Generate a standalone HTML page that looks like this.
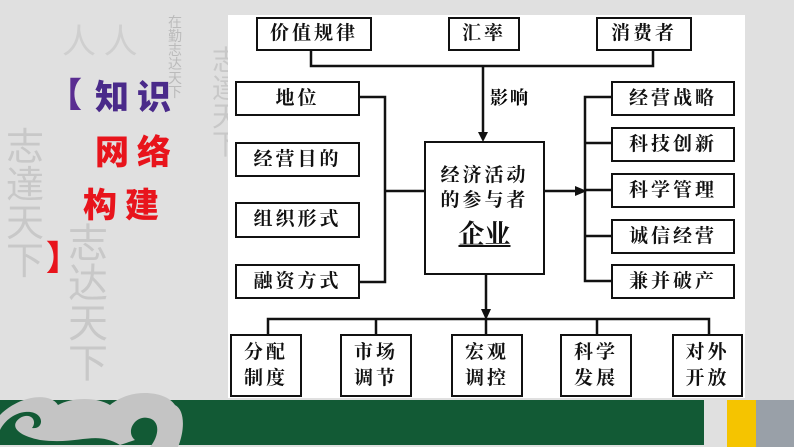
<!DOCTYPE html>
<html><head><meta charset="utf-8"><style>
*{margin:0;padding:0;box-sizing:border-box}
body{width:794px;height:447px;overflow:hidden;background:#e0e0e0;position:relative;font-family:"Liberation Serif","Noto Serif CJK SC",serif}
.a{position:absolute}
.b{position:absolute;background:#fff;border:2px solid #111;display:flex;align-items:center;justify-content:center;font-size:19px;font-weight:bold;color:#111;letter-spacing:3px;line-height:26px;text-align:center}
.wm{position:absolute;color:#c8c8c8;font-family:"Noto Sans CJK SC",sans-serif;line-height:1}
.t{position:absolute;font-family:"Noto Sans CJK SC",sans-serif;font-weight:900;font-size:34px;line-height:1;letter-spacing:8px}
</style></head><body>
<div class="wm" style="left:6px;top:125px;font-size:38px;width:40px">志達天下</div>
<div class="wm" style="left:68px;top:220px;font-size:40px;width:44px">志达天下</div>
<div class="wm" style="left:168px;top:15px;font-size:14px;width:16px;color:#bbb">在勤志达天下</div>
<div class="wm" style="left:212px;top:45px;font-size:28px;width:30px">志達天下</div>
<div class="wm" style="left:62px;top:22px;font-size:34px;color:#cfcfcf">人 人</div>
<div class="t" style="left:48px;top:76px;color:#5a2d91">【</div>
<div class="t" style="left:95px;top:78px;color:#4a2a8a">知识</div>
<div class="t" style="left:95px;top:133px;color:#e8141c">网络</div>
<div class="t" style="left:83px;top:186px;color:#e8141c">构建</div>
<div class="t" style="left:46px;top:239px;color:#e8141c">】</div>

<div class="a" style="left:228px;top:15px;width:517px;height:383px;background:#fff"></div>
<svg class="a" style="left:0;top:0" width="794" height="447">
<g stroke="#111" stroke-width="2.5" fill="none">
<path d="M311 50V66H653V50M483 66V134"/>
<path d="M359 97H385V282H359M385 191H424"/>
<path d="M545 191H578M611 97H585V281H611M585 143H611M585 190H611M585 236H611"/>
<path d="M486 274V312M268 334V319H709V334M376 319V334M486 319V334M597 319V334"/>
</g>
<g fill="#111">
<path d="M478 132L488 132L483 142Z"/>
<path d="M575 186L587 191L575 196Z"/>
<path d="M481 309L491 309L486 320Z"/>
</g>
<rect x="0" y="400" width="704" height="45" fill="#125a35"/>
<rect x="727" y="400" width="29" height="47" fill="#f5c400"/>
<rect x="756" y="400" width="38" height="47" fill="#99a0a8"/>
<path d="M0 415C20 395 50 392 58 405C70 398 95 396 110 405C130 388 165 390 175 405C185 410 185 430 178 447H150C160 435 160 420 148 418C135 415 125 432 135 440L120 445C95 430 80 445 40 440C15 435 10 425 20 418C30 412 38 420 32 428C45 430 45 410 25 412C15 413 5 420 0 430Z" fill="#c4c4c4"/>
</svg>
<div class="b" style="left:256px;top:17px;width:116px;height:34px">价值规律</div>
<div class="b" style="left:448px;top:17px;width:72px;height:34px">汇率</div>
<div class="b" style="left:596px;top:17px;width:96px;height:34px">消费者</div>
<div class="a" style="left:490px;top:84px;font-size:18px;font-weight:bold;letter-spacing:2px">影响</div>
<div class="b" style="left:235px;top:81px;width:125px;height:35px">地位</div>
<div class="b" style="left:235px;top:142px;width:125px;height:35px">经营目的</div>
<div class="b" style="left:235px;top:202px;width:125px;height:36px">组织形式</div>
<div class="b" style="left:235px;top:264px;width:125px;height:35px">融资方式</div>
<div class="b" style="left:424px;top:141px;width:121px;height:134px;flex-direction:column;line-height:25px;padding-top:4px">经济活动<br>的参与者<span style="font-size:26px;line-height:44px;text-decoration:underline;letter-spacing:0">企业</span></div>
<div class="b" style="left:611px;top:81px;width:124px;height:35px">经营战略</div>
<div class="b" style="left:611px;top:127px;width:124px;height:35px">科技创新</div>
<div class="b" style="left:611px;top:173px;width:124px;height:35px">科学管理</div>
<div class="b" style="left:611px;top:219px;width:124px;height:35px">诚信经营</div>
<div class="b" style="left:611px;top:264px;width:124px;height:35px">兼并破产</div>
<div class="b" style="left:230px;top:334px;width:72px;height:63px">分配<br>制度</div>
<div class="b" style="left:340px;top:334px;width:72px;height:63px">市场<br>调节</div>
<div class="b" style="left:451px;top:334px;width:72px;height:63px">宏观<br>调控</div>
<div class="b" style="left:560px;top:334px;width:72px;height:63px">科学<br>发展</div>
<div class="b" style="left:672px;top:334px;width:71px;height:63px">对外<br>开放</div>
</body></html>
